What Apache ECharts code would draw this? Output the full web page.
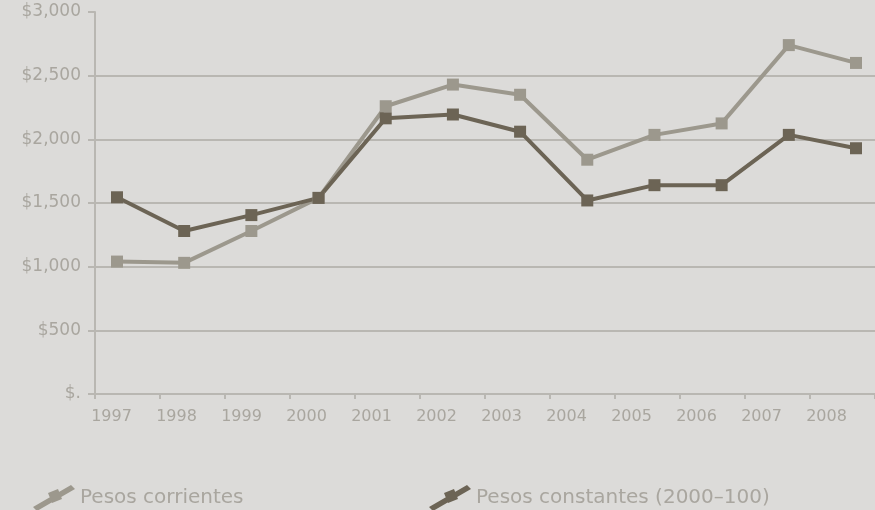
<!DOCTYPE html>
<html>
<head>
<meta charset="utf-8">
<script src="https://cdn.jsdelivr.net/npm/echarts@6/dist/echarts.min.js"></script>
<style>
html,body{margin:0;padding:0;background:#dcdbd9;}
#chart{width:875px;height:510px;}
</style>
</head>
<body>
<div id="chart"></div>
<script>
var years = ['1997','1998','1999','2000','2001','2002','2003','2004','2005','2006','2007','2008'];
var pesosCorrientes = [1040, 1030, 1280, 1540, 2260, 2430, 2350, 1840, 2035, 2125, 2740, 2600];
var pesosConstantes = [1545, 1280, 1405, 1540, 2165, 2195, 2060, 1520, 1640, 1640, 2035, 1930];
var seriesNames = ['Pesos corrientes', 'Pesos constantes (2000\u2013100)'];
var yTicks = [0, 500, 1000, 1500, 2000, 2500, 3000];

var textColor = '#a9a69f';
var gridColor = '#b9b7b2';
var lightColor = '#9c988d';
var darkColor = '#6c6455';
var font = 'DejaVu Sans';
var legendIcon = 'path://M0 24 L38 2 L42 6 L4 28 Z M15 10 L25 6 L29 16 L19 20 Z';

var chart = echarts.init(document.getElementById('chart'));
chart.setOption({
  backgroundColor: '#dcdbd9',
  animation: false,
  grid: [
    {left: 95, right: -7, top: 12, bottom: 116},
    {left: 117, right: 19, top: 12, bottom: 116}
  ],
  xAxis: [
    {
      gridIndex: 0, type: 'category', data: years, boundaryGap: true,
      axisLine: {lineStyle: {color: gridColor, width: 2}},
      axisTick: {show: true, length: 5, lineStyle: {color: gridColor, width: 2}},
      axisLabel: {color: textColor, fontFamily: font, fontSize: 16, margin: 15, padding: [0, 32, 0, 0]}
    },
    {gridIndex: 1, type: 'category', data: years, boundaryGap: false, show: false}
  ],
  yAxis: [
    {
      gridIndex: 0, type: 'value', min: yTicks[0], max: yTicks[yTicks.length - 1], interval: 500,
      axisLine: {show: true, lineStyle: {color: gridColor, width: 2}},
      axisTick: {show: true, length: 7, lineStyle: {color: gridColor, width: 2}},
      axisLabel: {
        color: textColor, fontFamily: font, fontSize: 17, margin: 14, padding: [6, 0, 0, 0],
        formatter: function (v) { return v === 0 ? '$.' : '$' + v.toLocaleString('en-US'); }
      },
      splitLine: {show: true, lineStyle: {color: [gridColor, gridColor, gridColor, gridColor, gridColor, gridColor, 'rgba(0,0,0,0)'], width: 2}}
    },
    {gridIndex: 1, type: 'value', min: yTicks[0], max: yTicks[yTicks.length - 1], show: false}
  ],
  legend: [
    {
      data: [seriesNames[0]], left: 28, top: 480, icon: legendIcon,
      itemWidth: 42, itemHeight: 28, itemGap: 7,
      textStyle: {color: textColor, fontFamily: font, fontSize: 20}
    },
    {
      data: [seriesNames[1]], left: 424, top: 480, icon: legendIcon,
      itemWidth: 42, itemHeight: 28, itemGap: 7,
      textStyle: {color: textColor, fontFamily: font, fontSize: 20}
    }
  ],
  series: [
    {
      name: seriesNames[0], type: 'line', xAxisIndex: 1, yAxisIndex: 1,
      data: pesosCorrientes, symbol: 'rect', symbolSize: 12,
      lineStyle: {color: lightColor, width: 4},
      itemStyle: {color: lightColor}
    },
    {
      name: seriesNames[1], type: 'line', xAxisIndex: 1, yAxisIndex: 1,
      data: pesosConstantes, symbol: 'rect', symbolSize: 12,
      lineStyle: {color: darkColor, width: 4},
      itemStyle: {color: darkColor}
    }
  ]
});
</script>
</body>
</html>
